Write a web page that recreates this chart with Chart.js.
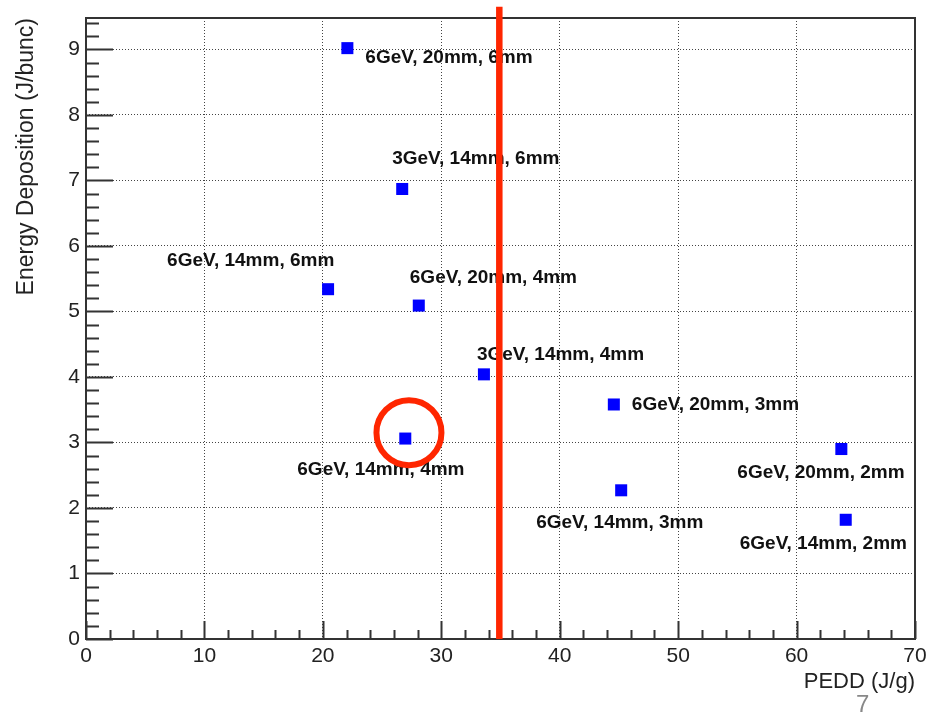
<!DOCTYPE html>
<html>
<head>
<meta charset="utf-8">
<script src="https://cdn.jsdelivr.net/npm/chart.js@4.4.1/dist/chart.umd.min.js"></script>
<style>
  body { margin: 0; background: #fff; }
  #wrap { position: relative; width: 939px; height: 712px; overflow: hidden; }
  #page { position: absolute; left: 856px; top: 692px; font: 24px "Liberation Sans", Arial, sans-serif; color: #888; line-height: 1; }
</style>
</head>
<body>
<div id="wrap">
  <canvas id="chart" width="939" height="712"></canvas>
  <div id="page">7</div>
</div>
<script>
// data
const pedd = [22.07, 26.7, 20.44, 28.1, 33.6, 26.96, 44.57, 45.19, 63.78, 64.15];
const energy = [9.02, 6.87, 5.34, 5.09, 4.04, 3.06, 3.58, 2.27, 2.90, 1.82];
const configs = [
  '6GeV, 20mm, 6mm', '3GeV, 14mm, 6mm', '6GeV, 14mm, 6mm', '6GeV, 20mm, 4mm',
  '3GeV, 14mm, 4mm', '6GeV, 14mm, 4mm', '6GeV, 20mm, 3mm', '6GeV, 14mm, 3mm',
  '6GeV, 20mm, 2mm', '6GeV, 14mm, 2mm'
];
const xTicks = [0, 10, 20, 30, 40, 50, 60, 70];
const yTicks = [0, 1, 2, 3, 4, 5, 6, 7, 8, 9];
const cutPedd = 34.9;          // red limit line
const cutTop = 9.65;           // line runs a bit above the frame
const highlight = [27.27, 3.15]; // circled point

// where each text sits relative to its marker (px, left edge / middle)
const labelOffsets = [
  [18, 10], [-10, -30], [-161, -28], [-9, -28], [-7, -20],
  [-108, 31], [18, 0], [-85, 32], [-104, 24], [-106, 24]
];

const FONT = '"Liberation Sans", Arial, sans-serif';

const decor = {
  id: 'decor',
  beforeDatasetsDraw(chart) {
    const {ctx, chartArea: a, scales: {x, y}} = chart;
    ctx.save();
    ctx.strokeStyle = '#333';
    ctx.lineWidth = 2;
    ctx.strokeRect(a.left, a.top, a.right - a.left, a.bottom - a.top);

    // inward ticks, ROOT style
    ctx.beginPath();
    for (let i = 0; i <= 47; i++) {
      const py = Math.round(y.getPixelForValue(i / 5)) + 0.5;
      const len = i % 5 === 0 ? 27 : 13;
      ctx.moveTo(a.left, py);
      ctx.lineTo(a.left + len, py);
    }
    for (let i = 0; i <= 35; i++) {
      const px = Math.round(x.getPixelForValue(i * 2)) + 0.5;
      const len = i % 5 === 0 ? 18 : 9;
      ctx.moveTo(px, a.bottom);
      ctx.lineTo(px, a.bottom - len);
    }
    ctx.stroke();

    // point labels
    const meta = chart.getDatasetMeta(0);
    ctx.font = 'bold 19px ' + FONT;
    ctx.fillStyle = '#111';
    ctx.textAlign = 'left';
    ctx.textBaseline = 'middle';
    meta.data.forEach((pt, i) => {
      const [dx, dy] = labelOffsets[i];
      ctx.fillText(configs[i], pt.x + dx, pt.y + dy);
    });
    ctx.restore();
  }
};

new Chart(document.getElementById('chart'), {
  type: 'scatter',
  data: {
    datasets: [
      {
        data: pedd.map((v, i) => ({x: v, y: energy[i]})),
        pointStyle: 'rect',
        pointRadius: 8.5,
        pointBorderWidth: 0,
        backgroundColor: '#0000ff',
        borderColor: '#0000ff',
        order: 1
      },
      {
        data: [{x: highlight[0], y: highlight[1]}],
        pointStyle: 'circle',
        pointRadius: 32.5,
        pointBorderWidth: 6,
        pointBorderColor: '#ff2600',
        pointBackgroundColor: 'rgba(0,0,0,0)',
        order: 2
      },
      {
        data: [{x: cutPedd, y: 0}, {x: cutPedd, y: cutTop}],
        showLine: true,
        borderColor: '#ff2600',
        borderWidth: 6.5,
        borderCapStyle: 'butt',
        pointRadius: 0,
        clip: false,
        order: 0
      }
    ]
  },
  options: {
    responsive: false,
    animation: false,
    events: [],
    layout: { autoPadding: false, padding: { top: 18, right: 24, left: 0, bottom: 0 } },
    plugins: { legend: { display: false }, tooltip: { enabled: false } },
    scales: {
      x: {
        type: 'linear',
        min: 0,
        max: 70,
        afterFit: s => { s.height = 73; s.paddingLeft = 0; s.paddingRight = 0; },
        afterBuildTicks: s => { s.ticks = xTicks.map(v => ({value: v})); },
        grid: { color: '#444', lineWidth: 1, drawTicks: false },
        border: { display: false, dash: [1, 2] },
        ticks: { color: '#222', font: { family: FONT, size: 21 }, padding: 5, maxRotation: 0 },
        title: {
          display: true, text: 'PEDD (J/g)', align: 'end', color: '#222',
          font: { family: FONT, size: 22 }, padding: { top: 0, bottom: 17 }
        }
      },
      y: {
        type: 'linear',
        min: 0,
        max: 9.48,
        afterFit: s => { s.width = 86; s.paddingTop = 0; s.paddingBottom = 0; },
        afterBuildTicks: s => { s.ticks = yTicks.map(v => ({value: v})); },
        grid: { color: '#444', lineWidth: 1, drawTicks: false },
        border: { display: false, dash: [1, 2] },
        ticks: { color: '#222', font: { family: FONT, size: 21 }, padding: 6 },
        title: {
          display: true, text: 'Energy Deposition (J/bunc)', align: 'end', color: '#222',
          font: { family: FONT, size: 23 }, padding: { top: 13, bottom: 0 }
        }
      }
    }
  },
  plugins: [decor]
});
</script>
</body>
</html>
